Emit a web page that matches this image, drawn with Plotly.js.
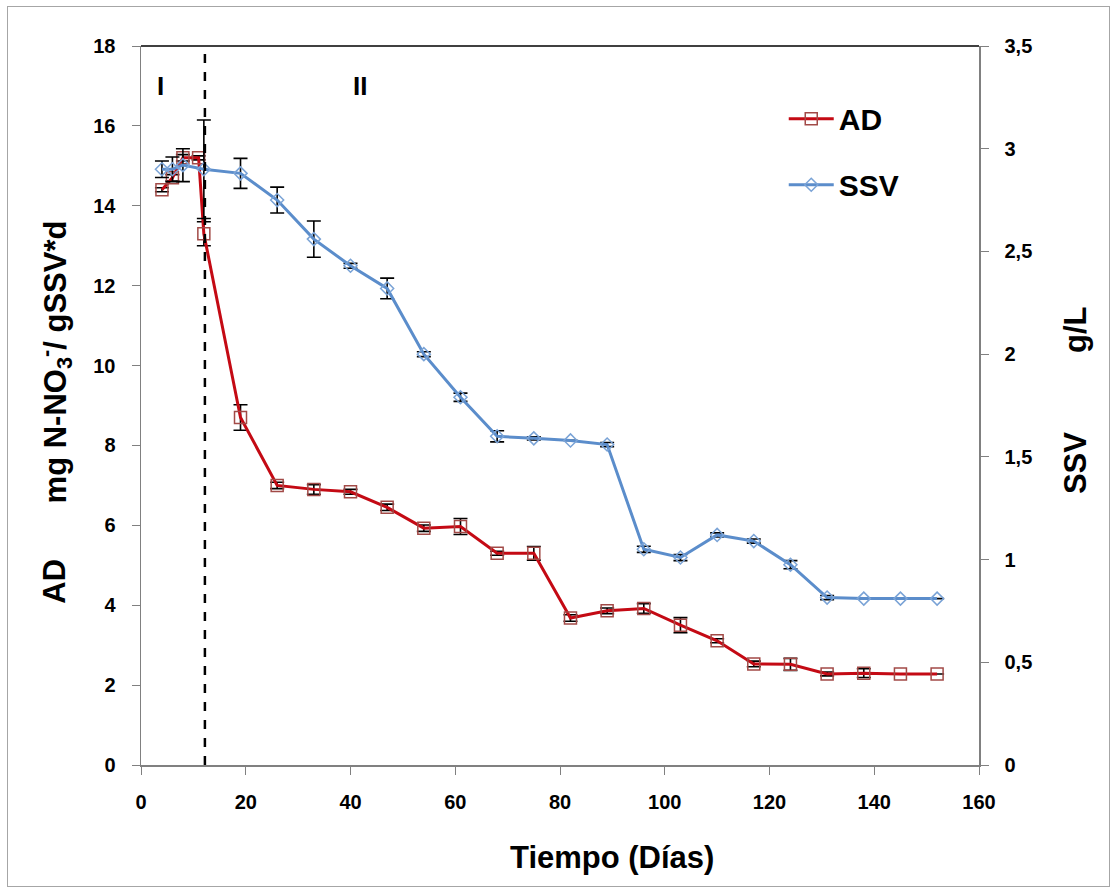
<!DOCTYPE html>
<html>
<head>
<meta charset="utf-8">
<script src="https://cdn.plot.ly/plotly-3.0.1.min.js"></script>
<style>
  html, body { margin: 0; padding: 0; background: #fff; }
  #wrap { position: relative; width: 1118px; height: 892px; }
  #chart { position: absolute; left: 0; top: 0; width: 1118px; height: 892px; }
  #frame { position: absolute; left: 7px; top: 6px; width: 1101px; height: 879px;
           border: 1.5px solid #a6a6a6; pointer-events: none; }
</style>
</head>
<body>
<div id="wrap">
  <div id="chart"></div>
  <div id="frame"></div>
</div>
<script>
// ---- data ----
const adDays   = [4, 6, 8, 11, 12, 19, 26, 33, 40, 47, 54, 61, 68, 75, 82, 89, 96, 103, 110, 117, 124, 131, 138, 145, 152];
const adValues = [14.4, 14.7, 15.2, 15.2, 13.3, 8.7, 7.0, 6.9, 6.84, 6.45, 5.93, 5.97, 5.3, 5.3, 3.68, 3.86, 3.92, 3.5, 3.11, 2.53, 2.52, 2.28, 2.3, 2.28, 2.28];
const adErrors = [0.05, 0.08, 0.08, 0.05, 0.3, 0.32, 0.08, 0.12, 0.06, 0.08, 0.08, 0.2, 0.05, 0.17, 0.08, 0.07, 0.12, 0.19, 0.05, 0.07, 0.15, 0.05, 0.11, 0, 0];

const ssvDays   = [4, 6, 8, 12, 19, 26, 33, 40, 47, 54, 61, 68, 75, 82, 89, 96, 103, 110, 117, 124, 131, 138, 145, 152];
const ssvValues = [2.9, 2.9, 2.92, 2.9, 2.88, 2.75, 2.56, 2.43, 2.32, 2.0, 1.79, 1.6, 1.59, 1.58, 1.56, 1.05, 1.01, 1.12, 1.09, 0.975, 0.815, 0.81, 0.81, 0.81];
const ssvErrors = [0.04, 0.06, 0.08, 0.24, 0.073, 0.063, 0.088, 0.012, 0.05, 0.012, 0.02, 0.027, 0.008, 0, 0.01, 0.015, 0.015, 0.01, 0.01, 0.02, 0.01, 0, 0, 0];

const seriesNames = ['AD', 'SSV'];
const phaseLabels = ['I', 'II'];
const phaseLabelX = [3.8, 41.8];
const phaseChangeDay = 12.2;
const xTickVals = [0, 20, 40, 60, 80, 100, 120, 140, 160];
const yLeftTicks = [0, 2, 4, 6, 8, 10, 12, 14, 16, 18];
const yRightTicks = [0, 0.5, 1, 1.5, 2, 2.5, 3, 3.5];

const FONT = 'Arial, "Liberation Sans", Helvetica, sans-serif';
const tickFont = {family: FONT, size: 20, color: '#000', weight: 700};
const titleFont = {family: FONT, size: 31, color: '#000', weight: 700};

const traces = [
  {
    x: adDays, y: adValues, name: seriesNames[0], type: 'scatter', mode: 'lines+markers',
    yaxis: 'y', legendgroup: 'a',
    line: {color: '#c40a14', width: 3},
    marker: {symbol: 'square-open', size: 12, color: '#a24a47', line: {width: 1.5}},
    error_y: {type: 'data', array: adErrors, visible: true, color: '#000', thickness: 1.6, width: 7}
  },
  {
    x: ssvDays, y: ssvValues, name: seriesNames[1], type: 'scatter', mode: 'lines+markers',
    yaxis: 'y2', legendgroup: 'b',
    line: {color: '#5b8dcb', width: 3},
    marker: {symbol: 'diamond-open', size: 10, color: '#7aa3d6', line: {width: 1.5}},
    error_y: {type: 'data', array: ssvErrors, visible: true, color: '#000', thickness: 1.6, width: 7}
  }
];

const layout = {
  width: 1118, height: 892,
  margin: {l: 141, r: 139, t: 46, b: 127},
  paper_bgcolor: 'rgba(0,0,0,0)', plot_bgcolor: '#fff',
  separators: ',.',
  showlegend: true,
  legend: {
    x: 0.767, y: 0.935, xanchor: 'left', yanchor: 'top',
    font: {family: FONT, size: 30, color: '#000', weight: 700},
    itemwidth: 45,
    traceorder: 'grouped', tracegroupgap: 24, bgcolor: 'rgba(0,0,0,0)'
  },
  xaxis: {
    range: [0, 160], tickvals: xTickVals, ticks: 'outside', ticklen: 8, tickcolor: '#808080',
    showline: true, linecolor: '#808080', linewidth: 1.5, showgrid: false, zeroline: false,
    tickfont: tickFont, ticklabelstandoff: 10
  },
  yaxis: {
    range: [0, 18], tickvals: yLeftTicks, ticks: 'outside', ticklen: 8, tickcolor: '#808080',
    showline: true, linecolor: '#808080', linewidth: 1.5, showgrid: false, zeroline: false,
    tickfont: tickFont, ticklabelstandoff: 12
  },
  yaxis2: {
    range: [0, 3.5], tickvals: yRightTicks, overlaying: 'y', side: 'right',
    ticks: 'outside', ticklen: 8, tickcolor: '#808080',
    showline: true, linecolor: '#808080', linewidth: 1.5, showgrid: false, zeroline: false,
    tickfont: tickFont, ticklabelstandoff: 12
  },
  shapes: [
    {type: 'line', xref: 'paper', yref: 'paper', x0: 0, x1: 1, y0: 1, y1: 1,
     line: {color: '#000', width: 1.5}},
    {type: 'line', xref: 'x', yref: 'y', x0: phaseChangeDay, x1: phaseChangeDay, y0: 0, y1: 18,
     layer: 'above', line: {color: '#000', width: 2.5, dash: 'dash'}}
  ],
  annotations: [
    {text: phaseLabels[0], x: phaseLabelX[0], y: 17.0, xref: 'x', yref: 'y', showarrow: false,
     xanchor: 'center', yanchor: 'middle',
     font: {family: FONT, size: 26, color: '#000', weight: 700}},
    {text: phaseLabels[1], x: phaseLabelX[1], y: 17.0, xref: 'x', yref: 'y', showarrow: false,
     xanchor: 'center', yanchor: 'middle',
     font: {family: FONT, size: 26, color: '#000', weight: 700}},
    {text: 'Tiempo (Días)', x: 0.562, y: -0.129, xref: 'paper', yref: 'paper', showarrow: false,
     xanchor: 'center', yanchor: 'middle', font: titleFont},
    {text: 'AD', x: -0.1026, y: 0.255, xref: 'paper', yref: 'paper', showarrow: false, textangle: -90,
     xanchor: 'center', yanchor: 'middle', font: titleFont},
    {text: 'mg N-NO<sub>3</sub><sup>-</sup>/ gSSV*d', x: -0.1026, y: 0.56, xref: 'paper', yref: 'paper',
     showarrow: false, textangle: -90, xanchor: 'center', yanchor: 'middle', font: titleFont},
    {text: 'SSV', x: 1.1146, y: 0.42, xref: 'paper', yref: 'paper', showarrow: false, textangle: -90,
     xanchor: 'center', yanchor: 'middle', font: titleFont},
    {text: 'g/L', x: 1.1146, y: 0.605, xref: 'paper', yref: 'paper', showarrow: false, textangle: -90,
     xanchor: 'center', yanchor: 'middle', font: titleFont}
  ]
};

Plotly.newPlot('chart', traces, layout, {displayModeBar: false, staticPlot: true});
</script>
</body>
</html>
